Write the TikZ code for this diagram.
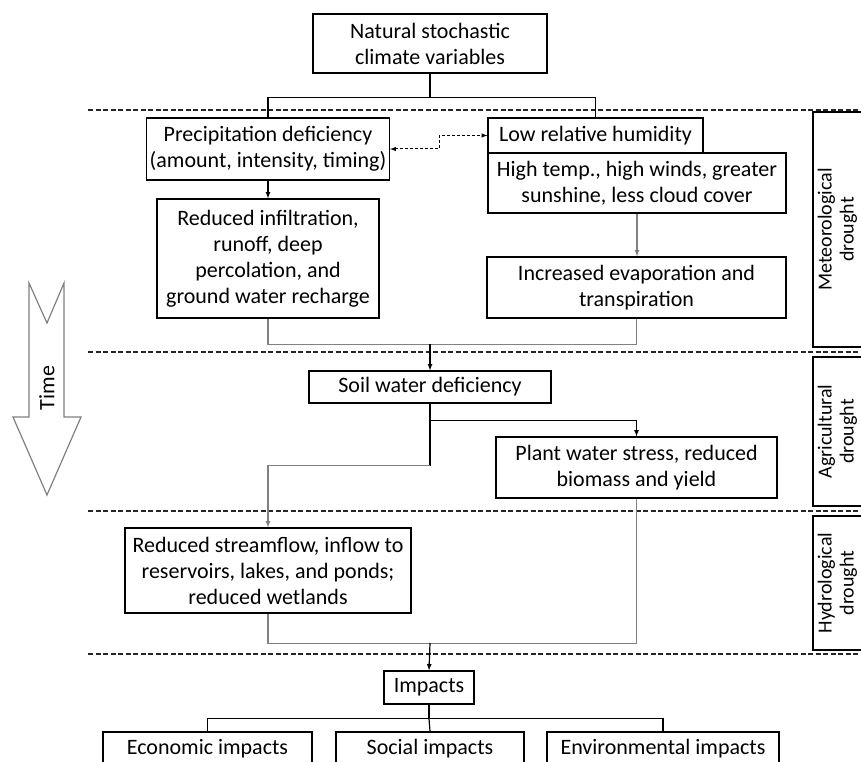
\documentclass[tikz,border=0pt]{standalone}
\usepackage{fontspec}
\setmainfont{Carlito}
\begin{document}
\begin{tikzpicture}[x=1pt,y=-1pt,>=latex]

    \tikzset{
      box/.style={
        draw,
        line width=1.2pt,
        align=center,
        inner sep=0pt,
        font=\fontsize{22}{26}\selectfont,
      },
      lane/.style={
        draw,
        line width=1.2pt,
        rotate=90,
      },
      lanetext/.style={
        rotate=90,
        align=center,
        inner sep=0pt,
        font=\fontsize{20}{22}\selectfont,
      },
      link/.style={line width=1.2pt},
      glink/.style={line width=1.2pt,color=gray},
      dlink/.style={line width=1pt,dash pattern=on 3pt off 2pt},
      sep/.style={line width=1.3pt,color=black!85,dash pattern=on 5pt off 2.5pt},
    }
    \useasboundingbox (0,0) rectangle (861,762);
    \clip (0,0) rectangle (861,762);

	\draw[sep] (88,110)--(861,110);
	\draw[sep] (88,352)--(861,352);
	\draw[sep] (88,511)--(861,511);
	\draw[sep] (88,654)--(861,654);

	\draw[line width=1.2pt,color=gray] (29,283)--(47,323)--(64,283)--(64,417)--(81,417)--(47,495)--(13,417)--(29,417)--cycle;
	\node[rotate=90,font=\fontsize{22}{26}\selectfont] (time) at (47,388) {Time};

	\node[lane,minimum width=235,minimum height=57] (met) at (841.5,229.5) {};
	\node[lane,minimum width=149,minimum height=57] (agr) at (841.5,431.5) {};
	\node[lane,minimum width=134,minimum height=57] (hyl) at (841.5,583) {};
	\node[lanetext] (mett) at (837.5,229.5) {Meteorological\\drought};
	\node[lanetext] (agrt) at (837.5,431.5) {Agricultural\\drought};
	\node[lanetext] (hylt) at (837.5,583) {Hydrological\\drought};

	\node[box,minimum width=234,minimum height=59] (nat) at (430,43.5) {Natural stochastic\\climate variables};
	\node[box,minimum width=243,minimum height=62] (pre) at (268,149) {Precipitation deficiency\\(amount, intensity, timing)};
	\node[box,minimum width=215,minimum height=35] (lrh) at (595.5,135.5) {Low relative humidity};
	\node[box,minimum width=298,minimum height=60] (ht) at (637,183) {High temp., high winds, greater\\sunshine, less cloud cover};
	\node[box,minimum width=222,minimum height=119] (red) at (268,258.5) {Reduced infiltration,\\runoff, deep\\percolation, and\\ground water recharge};
	\node[box,minimum width=299,minimum height=61] (eva) at (636.5,287.5) {Increased evaporation and\\transpiration};
	\node[box,minimum width=242,minimum height=32] (soil) at (430,387) {Soil water deficiency};
	\node[box,minimum width=281,minimum height=61] (pla) at (636.5,467.5) {Plant water stress, reduced\\biomass and yield};
	\node[box,minimum width=286,minimum height=85] (hyd) at (268,570.5) {Reduced streamflow, inflow to\\reservoirs, lakes, and ponds;\\reduced wetlands};
	\node[box,minimum width=90,minimum height=33] (imp) at (429,687.5) {Impacts};
	\node[box,minimum width=209,minimum height=33] (eco) at (207.5,748.5) {Economic impacts};
	\node[box,minimum width=188,minimum height=33] (soc) at (430,748.5) {Social impacts};
	\node[box,minimum width=232,minimum height=33] (env) at (663,748.5) {Environmental impacts};

	\coordinate (m1) at (430,344);
	\coordinate (m2) at (430,643);

	\draw[link] (nat.south) -- ++(0,24) coordinate (b1) -| (pre.north);
	\draw[link] (b1) -| (lrh.north);
	\draw[link,->] (pre.south) -- (red.north);
	\draw[dlink,<->] (pre.east) -- ++(49,0) |- (lrh.west);
	\draw[glink,->] (ht.south) -- (ht.south |- eva.north);
	\draw[glink] (red.south) -- ++(0,26) -| (eva.south);
	\draw[link,->] (m1) -- (soil.north);
	\draw[link,->] (soil.south) -- ++(0,17) coordinate (s1) -| (pla.north);
	\draw[link] (s1) -- ++(0,45) coordinate (s2);
	\draw[glink,->] (s2) -| (hyd.north);
	\draw[glink] (hyd.south) -- ++(0,30) -| (pla.south);
	\draw[link,->] (m2) -- (imp.north);
	\draw[link] (imp.south) -- ++(0,14) coordinate (b2) -| (eco.north);
	\draw[link] (b2) -| (env.north);
	\draw[link] (b2) -- (soc.north);

\end{tikzpicture}
\end{document}
